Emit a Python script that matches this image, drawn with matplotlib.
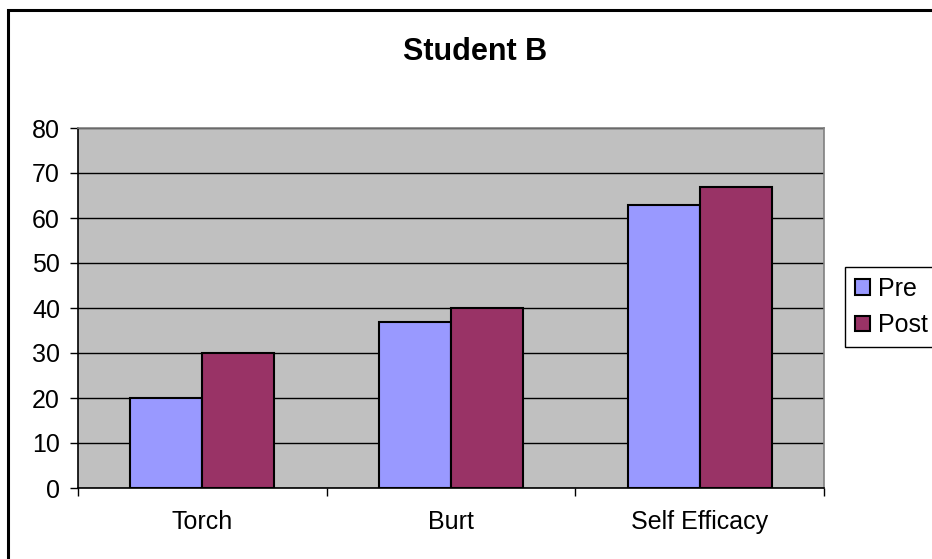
import numpy as np
import matplotlib
matplotlib.use("Agg")
import matplotlib.pyplot as plt
from matplotlib.patches import Rectangle

categories = ["Torch", "Burt", "Self Efficacy"]
pre = [20, 37, 63]
post = [30, 40, 67]
yticks = [0, 10, 20, 30, 40, 50, 60, 70, 80]

plt.rcParams['font.family'] = ['Liberation Sans', 'DejaVu Sans']

fig = plt.figure(figsize=(9.32, 5.59), dpi=100)
ax = fig.add_axes([78 / 932, 1 - 488 / 559, (824 - 78) / 932, (488 - 128) / 559])

# chart frame
fig.patches.append(Rectangle((8 / 932, -0.1), 1.2, 1.1 - 10 / 559,
                             transform=fig.transFigure, fill=False,
                             edgecolor='black', linewidth=2.2, zorder=0))

ax.set_facecolor('#C0C0C0')
x = np.arange(len(categories))
w = 0.29
ax.bar(x - w / 2, pre, w, color='#9999FF', edgecolor='black', linewidth=1.5, label='Pre', zorder=3)
ax.bar(x + w / 2, post, w, color='#993366', edgecolor='black', linewidth=1.5, label='Post', zorder=3)

ax.set_ylim(0, 80)
ax.set_xlim(-0.5, 2.5)
ax.set_yticks(yticks)
ax.yaxis.grid(True, color='black', linewidth=1.0, zorder=1)
ax.set_axisbelow(True)

ax.set_xticks([-0.5, 0.5, 1.5, 2.5])
ax.set_xticklabels([])
ax.set_xticks(x, minor=True)
ax.set_xticklabels(categories, minor=True)
ax.tick_params(axis='x', which='major', direction='out', length=6, width=1)
ax.tick_params(axis='x', which='minor', length=0, pad=16, labelsize=18)
ax.tick_params(axis='y', direction='out', length=6, width=1, pad=7, labelsize=18)

ax.spines['left'].set_color('black')
ax.spines['bottom'].set_color('black')
ax.spines['top'].set_color('#808080')
ax.spines['right'].set_color('#808080')
for s in ax.spines.values():
    s.set_linewidth(1.2)

fig.text(475 / 932, 1 - 52 / 559, "Student B", ha='center', va='center',
         fontsize=22, fontweight='bold')

leg = fig.legend(loc='center left', bbox_to_anchor=(845 / 932, 1 - 307 / 559),
                 fontsize=18, frameon=True, fancybox=False, framealpha=1,
                 edgecolor='black', handlelength=0.6, handleheight=0.6,
                 handletextpad=0.3, borderpad=0.4, labelspacing=0.5,
                 borderaxespad=0)
leg.get_frame().set_linewidth(1.0)

fig.savefig("out.png", dpi=100)
